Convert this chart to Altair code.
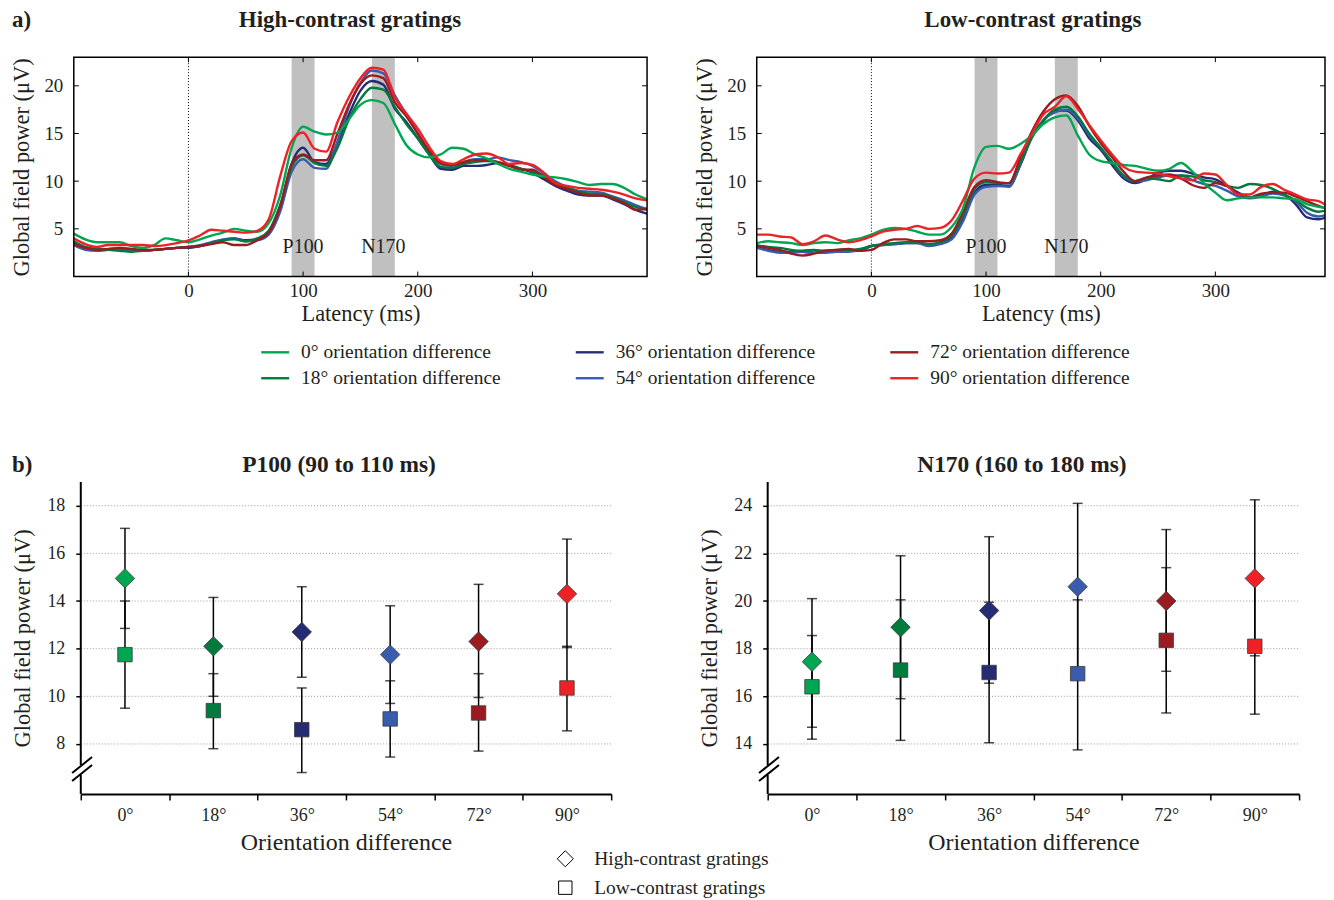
import altair as alt
import pandas as pd

FONT = "Liberation Serif"
TXT = "#231f20"

# ---------------- data: ERP global field power curves ----------------
times = list(range(-100, 401, 10))
conds = ["0°", "18°", "36°", "54°", "72°", "90°"]
colors = ["#00a651", "#007a3d", "#262c74", "#3a5cae", "#9a1c20", "#ed2227"]
legend_labels = [c + " orientation difference" for c in conds]

high_0 = [4.5, 3.9, 3.6, 3.6, 3.6, 3.2, 3.0, 3.3, 4.0, 3.8, 3.6, 3.9, 4.3, 4.6, 5.0, 4.8, 4.7, 5.6, 8.5, 13.5,
          15.7, 15.2, 14.9, 15.1, 16.5, 18.0, 18.5, 18.2, 16.0, 13.8, 12.8, 12.5, 12.8, 13.5, 13.4, 12.8, 12.4,
          11.8, 11.3, 11.0, 10.7, 10.5, 10.4, 10.2, 9.9, 9.6, 9.7, 9.7, 9.3, 8.6, 8.1]
high_18 = [3.7, 3.1, 2.9, 2.8, 2.7, 2.6, 2.7, 2.8, 2.9, 3.0, 3.1, 3.2, 3.5, 3.8, 3.9, 3.7, 4.0, 4.8, 7.5, 11.5,
           12.7, 11.9, 11.6, 13.5, 16.5, 18.6, 19.8, 19.6, 17.8, 16.0, 14.5, 12.8, 11.5, 11.4, 11.8, 12.0, 12.1,
           12.0, 11.6, 11.3, 11.0, 10.6, 9.8, 9.3, 8.9, 8.7, 8.6, 8.3, 7.8, 7.3, 7.0]
high_36 = [3.6, 3.0, 2.8, 2.8, 2.9, 2.8, 2.7, 2.8, 2.9, 3.0, 3.0, 3.2, 3.5, 3.8, 4.0, 3.8, 3.9, 4.5, 7.0, 11.8,
           13.5, 12.0, 11.8, 14.0, 17.0, 19.5, 20.5, 20.1, 17.6, 16.2, 14.5, 12.8, 11.3, 11.2, 11.6, 11.6, 11.7,
           11.9, 11.7, 11.3, 10.9, 10.2, 9.5, 9.0, 8.6, 8.5, 8.5, 8.1, 7.6, 7.0, 6.6]
high_54 = [3.3, 2.8, 2.7, 2.8, 2.9, 2.8, 2.7, 2.8, 2.9, 3.0, 3.1, 3.3, 3.6, 3.9, 4.0, 3.7, 3.8, 4.4, 6.8, 11.0,
           12.3, 11.4, 11.3, 14.2, 17.8, 20.3, 21.6, 21.3, 19.0, 17.0, 15.0, 13.0, 11.8, 11.6, 12.0, 12.3, 12.3,
           12.5, 12.2, 12.0, 11.6, 10.8, 10.0, 9.4, 9.0, 8.9, 8.8, 8.4, 8.0, 7.5, 7.1]
high_72 = [3.4, 3.0, 2.8, 2.9, 3.0, 2.9, 2.8, 2.8, 2.9, 3.0, 3.1, 3.2, 3.4, 3.6, 3.3, 3.3, 3.8, 4.6, 7.3, 11.8,
           12.8, 12.2, 12.2, 15.0, 18.0, 20.2, 21.1, 20.8, 18.3, 16.8, 15.0, 13.2, 11.9, 11.7, 12.0, 12.2, 12.2,
           12.0, 11.6, 11.2, 11.2, 10.4, 9.6, 9.2, 8.8, 8.5, 8.5, 8.2, 7.7, 7.0, 7.1]
high_90 = [4.0, 3.4, 3.1, 3.3, 3.3, 3.3, 3.3, 3.2, 3.3, 3.5, 3.8, 4.3, 4.9, 4.8, 4.7, 4.6, 4.8, 6.0, 10.5, 14.2,
           15.1, 13.4, 13.1, 16.2, 18.8, 20.8, 21.9, 21.7, 18.8, 17.1, 15.5, 13.6, 12.1, 11.8, 12.3, 12.8, 12.9,
           12.5, 11.8, 11.9, 11.7, 10.9, 9.8, 9.5, 9.3, 9.2, 9.1, 8.9, 8.6, 8.2, 8.0]

low_0 = [3.5, 3.7, 3.6, 3.5, 3.3, 3.5, 3.6, 3.5, 3.8, 4.0, 4.4, 4.9, 5.1, 5.0, 4.7, 4.4, 4.4, 5.2, 7.2, 11.5,
         13.6, 13.7, 13.4, 13.9, 14.8, 16.0, 16.7, 16.9, 14.8, 12.8, 12.1, 11.9, 11.7, 11.6, 11.3, 11.1, 11.3,
         11.9, 11.0, 9.8, 8.8, 8.0, 8.2, 8.3, 8.3, 8.3, 8.2, 8.1, 7.6, 7.3, 7.1]
low_18 = [3.3, 3.1, 3.0, 2.8, 2.7, 2.8, 2.7, 2.8, 2.8, 2.9, 3.2, 3.4, 3.5, 3.6, 3.6, 3.4, 3.6, 4.3, 6.5, 9.2,
          9.9, 9.8, 9.8, 12.0, 14.6, 16.4, 17.5, 17.8, 16.8, 15.0, 13.5, 12.0, 10.6, 10.0, 10.3, 10.2, 10.0,
          10.6, 10.5, 10.1, 9.9, 9.5, 9.3, 9.7, 9.6, 9.2, 8.6, 8.0, 7.2, 6.8, 7.0]
low_36 = [3.1, 2.8, 2.6, 2.6, 2.6, 2.5, 2.6, 2.6, 2.7, 2.7, 3.2, 3.3, 3.4, 3.5, 3.5, 3.3, 3.5, 4.0, 6.0, 8.8,
          9.6, 9.6, 9.5, 11.7, 14.6, 16.3, 17.4, 17.4, 16.4, 14.5, 13.3, 11.7, 10.3, 9.8, 10.2, 10.9, 11.1,
          11.1, 10.8, 10.4, 10.2, 9.5, 8.8, 8.3, 8.5, 8.9, 8.6, 7.6, 6.2, 6.0, 6.4]
low_54 = [3.0, 2.7, 2.5, 2.5, 2.6, 2.5, 2.5, 2.6, 2.6, 2.8, 3.2, 3.3, 3.4, 3.5, 3.5, 3.2, 3.4, 3.9, 5.8, 8.6,
          9.4, 9.5, 9.4, 11.8, 14.7, 16.4, 17.2, 17.5, 16.6, 14.8, 13.5, 12.0, 10.5, 10.0, 10.1, 10.4, 10.6,
          10.6, 10.1, 9.7, 9.5, 9.0, 8.4, 8.2, 8.4, 8.7, 8.5, 7.9, 6.7, 6.3, 6.6]
low_72 = [3.2, 3.0, 2.8, 2.4, 2.2, 2.4, 2.7, 2.8, 2.9, 2.7, 2.8, 3.5, 3.9, 3.9, 3.7, 3.7, 3.8, 4.5, 6.8, 9.4,
          10.1, 9.9, 9.8, 12.5, 15.2, 17.3, 18.6, 19.0, 17.9, 15.8, 14.0, 12.5, 11.0, 10.0, 10.4, 10.6, 10.7,
          10.3, 9.6, 9.3, 9.8, 9.5, 8.7, 8.3, 8.7, 8.8, 8.8, 8.4, 7.9, 7.4, 7.0]
low_90 = [4.4, 4.4, 4.2, 4.1, 3.4, 3.7, 4.3, 3.9, 3.6, 3.8, 4.2, 4.7, 4.9, 5.0, 5.3, 5.0, 5.1, 5.9, 8.0, 10.3,
          10.9, 10.8, 10.9, 12.8, 15.0, 17.0, 17.8, 18.9, 17.6, 15.9, 14.3, 12.8, 11.5, 11.0, 10.9, 10.8, 10.5,
          10.3, 10.1, 10.8, 10.7, 9.6, 8.6, 8.6, 9.4, 9.7, 9.1, 8.6, 8.1, 7.9, 7.2]

high_series = [high_0, high_18, high_36, high_54, high_72, high_90]
low_series = [low_0, low_18, low_36, low_54, low_72, low_90]

band_start = [90, 160]
band_end = [110, 180]
band_mid = [100, 170]
band_labels = ["P100", "N170"]
xticks_top = [0, 100, 200, 300]
yticks_top = [5, 10, 15, 20]

# ---------------- data: mean amplitudes with error bars ----------------
p100_high = [14.95, 12.1, 12.7, 11.75, 12.3, 14.3]
p100_high_lo = [12.85, 10.0, 10.8, 9.7, 9.95, 12.05]
p100_high_hi = [17.05, 14.15, 14.6, 13.8, 14.7, 16.6]
p100_low = [11.75, 9.4, 8.6, 9.05, 9.3, 10.35]
p100_low_lo = [9.5, 7.8, 6.8, 7.45, 7.7, 8.55]
p100_low_hi = [14.0, 10.95, 10.35, 10.65, 10.95, 12.1]

n170_high = [17.45, 18.9, 19.6, 20.6, 20.0, 20.95]
n170_high_lo = [14.7, 15.9, 16.55, 17.1, 17.05, 17.7]
n170_high_hi = [20.1, 21.9, 22.7, 24.1, 23.0, 24.25]
n170_low = [16.4, 17.1, 17.0, 16.95, 18.35, 18.1]
n170_low_lo = [14.2, 14.15, 14.05, 13.75, 15.3, 15.25]
n170_low_hi = [18.55, 20.05, 19.95, 20.05, 21.4, 20.95]

top_titles = ["High-contrast gratings", "Low-contrast gratings"]
bottom_titles = ["P100 (90 to 110 ms)", "N170 (160 to 180 ms)"]
marker_legend = ["High-contrast gratings", "Low-contrast gratings"]

cscale = alt.Scale(domain=conds, range=colors)
dummy = pd.DataFrame({"d": [0]})
draw_order = ["36°", "54°", "18°", "72°", "0°", "90°"]


def text_at(txt, x, y, size, bold=False, align="center"):
    return alt.Chart(dummy).mark_text(
        text=txt, font=FONT, fontSize=size, fontWeight="bold" if bold else "normal",
        color=TXT, align=align, baseline="middle"
    ).encode(x=alt.value(x), y=alt.value(y))


def erp_panel(series, title, xmax, W, tag=None, legend=False):
    H = 220
    rows = []
    for c, vals in zip(conds, series):
        for t, v in zip(times, vals):
            rows.append({"cond": c, "time": t, "gfp": v})
    df = pd.DataFrame(rows)
    xs = alt.Scale(domain=[-100, xmax], nice=False, zero=False)
    ys = alt.Scale(domain=[0, 23], nice=False, zero=False)
    xaxis = alt.Axis(values=xticks_top, ticks=False, domain=False, grid=False, labelFontSize=19,
                     labelPadding=5, title="Latency (ms)", titleFontSize=22.5, titlePadding=2,
                     labelFlush=False)
    yaxis = alt.Axis(values=yticks_top, ticks=False, domain=False, grid=False, labelFontSize=19,
                     labelPadding=11, title="Global field power (μV)", titleFontSize=22.5, titlePadding=10)
    band_df = pd.DataFrame({"start": band_start, "end": band_end, "mid": band_mid, "label": band_labels})

    def X(f):
        return alt.X(f, scale=xs, axis=xaxis)

    def Y(f):
        return alt.Y(f, scale=ys, axis=yaxis)

    layers = []
    layers.append(alt.Chart(band_df).mark_rect(color="#c0c0c0").encode(
        x=X("start:Q"), x2="end:Q", y=alt.value(0), y2=alt.value(H)))
    layers.append(alt.Chart(pd.DataFrame({"t": [0]})).mark_rule(
        color="black", strokeDash=[1, 2], strokeWidth=1).encode(
        x=X("t:Q"), y=alt.value(0), y2=alt.value(H)))
    layers.append(alt.Chart(band_df).mark_text(font=FONT, fontSize=20, color=TXT, baseline="middle").encode(
        x=X("mid:Q"), y=alt.value(190), text="label:N"))

    for c in draw_order:
        col = colors[conds.index(c)]
        layers.append(alt.Chart(df[df["cond"] == c]).mark_line(
            interpolate="monotone", strokeWidth=2.4, clip=True, color=col).encode(
            x=X("time:Q"), y=Y("gfp:Q")))

    xt = pd.DataFrame({"t": xticks_top})
    yt = pd.DataFrame({"t": yticks_top})
    for y0, y1 in [(H - 5, H), (0, 5)]:
        layers.append(alt.Chart(xt).mark_rule(color="black", strokeWidth=1).encode(
            x=X("t:Q"), y=alt.value(y0), y2=alt.value(y1)))
    for x0, x1 in [(0, 5), (W - 5, W)]:
        layers.append(alt.Chart(yt).mark_rule(color="black", strokeWidth=1).encode(
            y=Y("t:Q"), x=alt.value(x0), x2=alt.value(x1)))
    layers.append(alt.Chart(dummy).mark_rect(fill="white", fillOpacity=0, stroke="black", strokeWidth=1.5).encode(
        x=alt.value(0), x2=alt.value(W), y=alt.value(0), y2=alt.value(H)))

    layers.append(text_at(title, 277, -37, 23, bold=True))
    if tag:
        layers.append(text_at(tag, -62, -37, 23, bold=True, align="left"))
    if legend:
        ldf = pd.DataFrame({"cond": conds, "lab": legend_labels,
                            "col": [0, 0, 1, 1, 2, 2], "row": [0, 1, 0, 1, 0, 1]})
        base = alt.Chart(ldf).transform_calculate(
            lx="188 + datum.col * 315.5", lx2="216 + datum.col * 315.5",
            tx="228 + datum.col * 315.5", ly="296 + datum.row * 26")
        layers.append(base.mark_rule(strokeWidth=2.4).encode(
            x=alt.X("lx:Q", scale=None), x2="lx2:Q",
            y=alt.Y("ly:Q", scale=None),
            color=alt.Color("cond:N", scale=cscale, legend=None)))
        layers.append(base.mark_text(font=FONT, fontSize=19.5, color=TXT, align="left", baseline="middle").encode(
            x=alt.X("tx:Q", scale=None), y=alt.Y("ly:Q", scale=None), text="lab:N"))
    return alt.layer(*layers).properties(width=W, height=H)


def amp_panel(vals, title, ydom, yticks, W, ax, tag=None, legend=False):
    H = 313
    hv, hlo, hhi, lv, llo, lhi = vals
    df = pd.DataFrame({"cond": conds, "high": hv, "high_lo": hlo, "high_hi": hhi,
                       "low": lv, "low_lo": llo, "low_hi": lhi})
    xs = alt.Scale(type="band", domain=conds, range=[ax, W], paddingInner=0, paddingOuter=0)
    ys = alt.Scale(domain=ydom, nice=False, zero=False)
    xaxis = alt.Axis(tickBand="extent", tickSize=6, tickWidth=1.5, tickColor="black", domainColor="black",
                     domainWidth=2, labelAngle=0, labelFontSize=18, labelPadding=7, grid=False,
                     title="Orientation difference", titleFontSize=24, titlePadding=6)
    yaxis = alt.Axis(values=yticks, tickSize=5, tickWidth=1.5, tickColor="black", domain=False, offset=-ax,
                     grid=False, labelFontSize=18, labelPadding=11,
                     title="Global field power (μV)", titleFontSize=22.5, titlePadding=12)

    def X(f):
        return alt.X(f, scale=xs, axis=xaxis, sort=conds)

    def Y(f):
        return alt.Y(f, scale=ys, axis=yaxis)

    layers = []
    layers.append(alt.Chart(pd.DataFrame({"v": yticks})).mark_rule(
        color="#9a9a9a", strokeDash=[1, 2], strokeWidth=1).encode(
        y=Y("v:Q"), x=alt.value(ax), x2=alt.value(W)))
    # y axis line with break
    for y0, y1 in [(0, 284), (294, H)]:
        layers.append(alt.Chart(dummy).mark_rule(color="black", strokeWidth=2).encode(
            x=alt.value(ax), x2=alt.value(ax), y=alt.value(y0), y2=alt.value(y1)))
    for yy in [292, 300]:
        layers.append(alt.Chart(dummy).mark_rule(color="black", strokeWidth=2).encode(
            x=alt.value(ax - 8.7), x2=alt.value(ax + 11.3), y=alt.value(yy), y2=alt.value(yy - 16)))
    base = alt.Chart(df)
    for lo, hi in [("high_lo", "high_hi"), ("low_lo", "low_hi")]:
        layers.append(base.mark_rule(color="black", strokeWidth=1.5).encode(
            x=X("cond:N"), y=Y(lo + ":Q"), y2=hi + ":Q"))
        for f in [lo, hi]:
            layers.append(base.mark_tick(color="black", thickness=1.5, size=10).encode(
                x=X("cond:N"), y=Y(f + ":Q")))
    layers.append(base.mark_point(shape="square", filled=True, size=210, stroke="#3a3a3a",
                                  strokeWidth=0.8, opacity=1).encode(
        x=X("cond:N"), y=Y("low:Q"), fill=alt.Fill("cond:N", scale=cscale, legend=None)))
    layers.append(base.mark_point(shape="diamond", filled=True, size=380, stroke="#3a3a3a",
                                  strokeWidth=0.8, opacity=1).encode(
        x=X("cond:N"), y=Y("high:Q"), fill=alt.Fill("cond:N", scale=cscale, legend=None)))
    layers.append(text_at(title, 266, -17, 23.5, bold=True))
    if tag:
        layers.append(text_at(tag, -62, -17, 23, bold=True, align="left"))
    if legend:
        for i, (shape, sz, lab) in enumerate(zip(["diamond", "square"], [260, 180], marker_legend)):
            layers.append(alt.Chart(dummy).mark_point(shape=shape, filled=False, size=sz, stroke="black",
                                                      strokeWidth=1, opacity=1).encode(
                x=alt.value(493), y=alt.value(378 + 29 * i)))
            layers.append(text_at(lab, 522, 378 + 29 * i, 19.5, align="left"))
    return alt.layer(*layers).properties(width=W, height=H)


tl = erp_panel(high_series, top_titles[0], 400, 575, tag="a)", legend=True)
tr = erp_panel(low_series, top_titles[1], 395.65, 570)
bl = amp_panel([p100_high, p100_high_lo, p100_high_hi, p100_low, p100_low_lo, p100_low_hi],
               bottom_titles[0], [5.9, 19.0], [8, 10, 12, 14, 16, 18], 539, 7, tag="b)", legend=True)
br = amp_panel([n170_high, n170_high_lo, n170_high_hi, n170_low, n170_low_lo, n170_low_hi],
               bottom_titles[1], [11.9, 25.0], [14, 16, 18, 20, 22, 24], 544, 11)

chart = alt.concat(tl, tr, bl, br, columns=2, spacing={"row": 206, "column": 110}, bounds="flush").properties(
    padding={"left": 3, "top": 0, "right": 0, "bottom": 0}, background="white"
).configure_view(stroke=None).configure_axis(
    labelFont=FONT, titleFont=FONT, labelColor=TXT, titleColor=TXT, titleFontWeight="normal"
)

chart.save("out.html", embed_options={"renderer": "svg", "actions": False})
